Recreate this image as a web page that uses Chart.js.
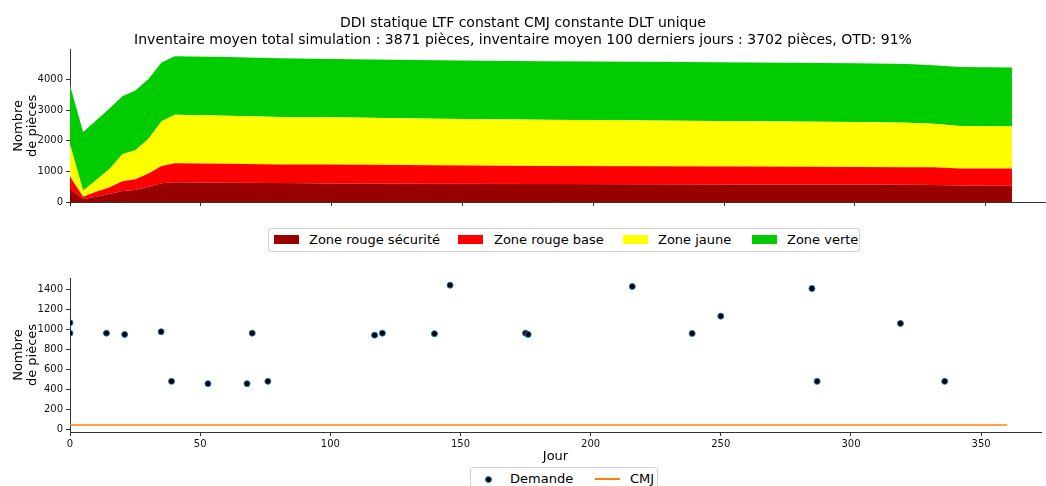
<!DOCTYPE html>
<html>
<head>
<meta charset="utf-8">
<script src="https://cdn.jsdelivr.net/npm/chart.js@4/dist/chart.umd.min.js"></script>
<style>
  body { margin: 0; background: #fff; font-family: "DejaVu Sans", sans-serif; }
  #wrap { position: relative; width: 1046px; height: 486px; overflow: hidden; }
  #topBox { position: absolute; left: 0; top: 0; width: 1046px; height: 215px; }
  #bottomBox { position: absolute; left: 0; top: 262px; width: 1046px; height: 224px; }
  .legend { position: absolute; border: 1px solid #d0d0d0; border-radius: 3px; background: #fff; font-size: 13px; color: #000; }
  .legend span { position: absolute; white-space: nowrap; }
</style>
</head>
<body>
<div id="wrap">
  <div id="topBox"><canvas id="zones"></canvas></div>
  <div id="bottomBox"><canvas id="demand"></canvas></div>

  <div class="legend" style="left:268px; top:228px; width:590px; height:22px;">
    <span style="left:5px; top:6px; width:25px; height:9px; background:#990000;"></span>
    <span style="left:40px; top:3px;">Zone rouge sécurité</span>
    <span style="left:189px; top:6px; width:25px; height:9px; background:#ff0000;"></span>
    <span style="left:225px; top:3px;">Zone rouge base</span>
    <span style="left:354px; top:6px; width:25px; height:9px; background:#ffff00;"></span>
    <span style="left:389px; top:3px;">Zone jaune</span>
    <span style="left:483px; top:6px; width:25px; height:9px; background:#00cc00;"></span>
    <span style="left:518px; top:3px;">Zone verte</span>
  </div>

  <div class="legend" style="left:470px; top:467px; width:186px; height:24px;">
    <span style="left:14px; top:8px; width:5px; height:5px; border-radius:50%; background:#000; border:1px solid #1f77b4;"></span>
    <span style="left:39px; top:3px;">Demande</span>
    <span style="left:124px; top:10px; width:25px; height:2px; background:#ff7f0e;"></span>
    <span style="left:159px; top:3px;">CMJ</span>
  </div>
</div>

<script>
const zoneDays = [0, 5, 10, 15, 20, 25, 30, 35, 40, 60, 80, 100, 140, 180, 220, 260, 300, 320, 330, 340, 360];
// Thickness of each zone (pieces)
const zoneRougeSecurite = [420, 100, 175, 260, 355, 390, 495, 615, 645, 630, 617, 606, 595, 588, 580, 572, 570, 565, 555, 540, 530];
const zoneRougeBase     = [400, 75, 160, 215, 325, 355, 435, 560, 620, 615, 608, 614, 600, 587, 585, 583, 575, 570, 575, 555, 560];
const zoneJaune         = [1060, 195, 380, 595, 875, 945, 1135, 1455, 1580, 1565, 1550, 1540, 1520, 1505, 1490, 1475, 1465, 1450, 1425, 1380, 1370];
const zoneVerte         = [1930, 1910, 1945, 1970, 1895, 1945, 1950, 1920, 1905, 1920, 1915, 1905, 1905, 1910, 1915, 1920, 1915, 1915, 1905, 1925, 1925];

// Demand events
const demandeJours  = [0, 0, 14, 21, 35, 39, 53, 68, 70, 76, 117, 120, 140, 146, 175, 176, 216, 239, 250, 285, 287, 319, 336];
const demandeValeur = [1067, 963, 963, 950, 977, 480, 457, 457, 963, 480, 943, 963, 957, 1443, 963, 950, 1430, 960, 1133, 1410, 480, 1060, 480];

// CMJ (constant)
const cmjJours  = [0, 360];
const cmjValeur = [43, 43];

const xTicks = [0, 50, 100, 150, 200, 250, 300, 350];
const yTicksZones = [0, 1000, 2000, 3000, 4000];
const yTicksDemande = [0, 200, 400, 600, 800, 1000, 1200, 1400];

const FONT = '"DejaVu Sans", sans-serif';
const AXIS = '#333';

// cumulative boundaries for the stacked areas
const layers = [zoneRougeSecurite, zoneRougeBase, zoneJaune, zoneVerte];
const layerColors = ['#990000', '#ff0000', '#ffff00', '#00cc00'];
const layerNames = ['Zone rouge sécurité', 'Zone rouge base', 'Zone jaune', 'Zone verte'];
const running = zoneDays.map(() => 0);
const zoneDatasets = layers.map((vals, i) => {
  const data = zoneDays.map((d, k) => {
    running[k] += vals[k];
    return { x: d, y: running[k] };
  });
  return {
    label: layerNames[i],
    data: data,
    backgroundColor: layerColors[i],
    borderColor: layerColors[i],
    borderWidth: 0,
    pointRadius: 0,
    tension: 0,
    fill: i === 0 ? 'origin' : '-1',
  };
});

const plain = (v) => String(v);

const xScale = (showLabels, height) => ({
  type: 'linear',
  min: 0,
  max: 373,
  afterBuildTicks: (scale) => { scale.ticks = xTicks.map(v => ({ value: v })); },
  ticks: { display: showLabels, callback: plain, font: { family: FONT, size: 10 }, color: '#111', padding: 2, maxRotation: 0 },
  grid: { drawOnChartArea: false, drawTicks: true, tickLength: 4, color: AXIS },
  border: { color: AXIS, width: 1 },
  afterFit: (scale) => { scale.height = height; },
});

const yScale = (min, max, tickValues) => ({
  min: min,
  max: max,
  afterBuildTicks: (scale) => { scale.ticks = tickValues.map(v => ({ value: v })); },
  ticks: { callback: plain, font: { family: FONT, size: 10 }, color: '#111', padding: 3 },
  grid: { drawOnChartArea: false, drawTicks: true, tickLength: 4, color: AXIS },
  border: { color: AXIS, width: 1 },
  title: { display: true, text: ['Nombre', 'de pièces'], font: { family: FONT, size: 13, lineHeight: 1.1 }, color: '#000', padding: { top: 11, bottom: 0 } },
  afterFit: (scale) => { scale.width = 70; },
});

new Chart(document.getElementById('zones'), {
  type: 'line',
  data: { datasets: zoneDatasets },
  options: {
    responsive: true,
    maintainAspectRatio: false,
    animation: false,
    layout: { padding: { left: 0, right: 0, top: 0, bottom: 0 } },
    plugins: {
      legend: { display: false },
      tooltip: { enabled: false },
      title: {
        display: true,
        text: ['DDI statique LTF constant CMJ constante DLT unique',
               'Inventaire moyen total simulation : 3871 pièces, inventaire moyen 100 derniers jours : 3702 pièces, OTD: 91%'],
        font: { family: FONT, size: 14, weight: 'normal', lineHeight: 1.2 },
        color: '#000',
        padding: { top: 15, bottom: 1 },
      },
    },
    scales: {
      x: xScale(false, 13),
      y: yScale(0, 4970, yTicksZones),
    },
  },
});

new Chart(document.getElementById('demand'), {
  type: 'scatter',
  data: {
    datasets: [
      {
        label: 'Demande',
        data: demandeJours.map((d, i) => ({ x: d, y: demandeValeur[i] })),
        backgroundColor: '#000',
        borderColor: '#1f77b4',
        borderWidth: 1,
        pointRadius: 3,
        showLine: false,
      },
      {
        label: 'CMJ',
        type: 'line',
        data: cmjJours.map((d, i) => ({ x: d, y: cmjValeur[i] })),
        borderColor: '#ff7f0e',
        borderWidth: 1.5,
        pointRadius: 0,
        fill: false,
      },
    ],
  },
  options: {
    responsive: true,
    maintainAspectRatio: false,
    animation: false,
    layout: { padding: { left: 0, right: 0, top: 16, bottom: 0 } },
    plugins: { legend: { display: false }, tooltip: { enabled: false } },
    scales: {
      x: Object.assign(xScale(true, 54), {
        title: { display: true, text: 'Jour', font: { family: FONT, size: 13 }, color: '#000', padding: { top: 1, bottom: 22 } },
      }),
      y: yScale(-27, 1515, yTicksDemande),
    },
  },
});
</script>
</body>
</html>
